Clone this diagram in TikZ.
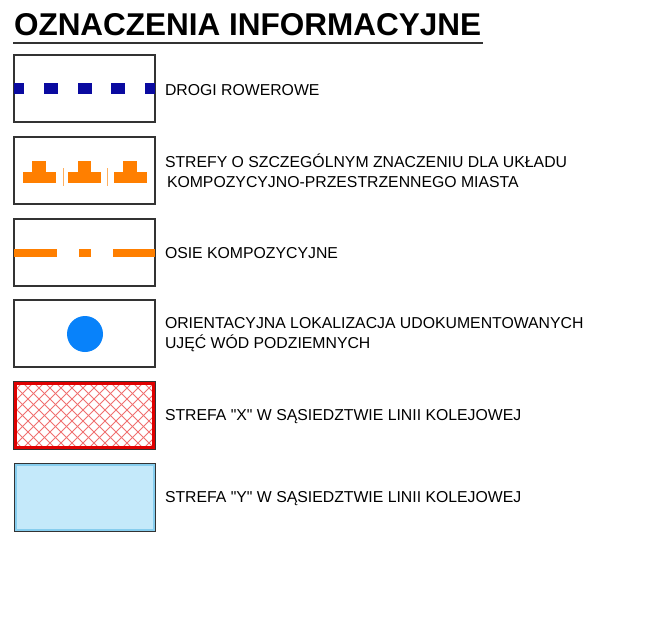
\documentclass[tikz,border=0pt]{standalone}
\usepackage{fontspec}
\setmainfont{Liberation Sans}[Ligatures=TeXOff]
\begin{document}
\begin{tikzpicture}[x=1pt,y=-1pt,
  every node/.style={outer sep=0pt},
  legbox/.style={draw=boxgray,line width=1.2pt,minimum width=141pt,minimum height=67pt,inner sep=0pt,anchor=north west},
  lbl/.style={anchor=base west,inner sep=0pt,font=\fontsize{15.8}{19.5}\selectfont,align=left},
]
\definecolor{boxgray}{HTML}{333333}
\definecolor{bikeblue}{HTML}{0A0AA0}
\definecolor{orng}{HTML}{FF7F00}
\definecolor{ltorng}{HTML}{FFB060}
\definecolor{dotblue}{HTML}{0882FA}
\definecolor{hred}{HTML}{E00000}
\definecolor{hatch}{HTML}{F07070}
\definecolor{ltblue}{HTML}{C4E9FA}
\definecolor{midblue}{HTML}{86CDEE}
\useasboundingbox[fill=white] (0,0) rectangle (668,630);
% title
\node[anchor=base west,inner sep=0pt,font=\fontsize{31.5}{32}\selectfont\bfseries] (title) at (14,35.5) {OZNACZENIA INFORMACYJNE};
\draw[line width=1.5pt,boxgray] (13,43) coordinate (ul1) -- (483,43) coordinate (ul2);
% box 1: bike roads
\node[legbox] (b1) at (14,55) {};
\foreach \a/\b in {14/24,44/58,78/92,111/125,145/155}{\fill[bikeblue] (\a,83) rectangle (\b,94);}
\node[lbl] (t1) at (165,95.3) {DROGI ROWEROWE};
% box 2: zones
\node[legbox] (b2) at (14,137) {};
\foreach \d in {0,45.3,91}{
  \fill[orng] (23+\d,172) rectangle (55.7+\d,183.3);
  \fill[orng] (32.3+\d,161) rectangle (45.7+\d,172.5);
}
\draw[ltorng,line width=0.8pt] (63,168) -- (63,186);
\draw[ltorng,line width=0.8pt] (107.3,168) -- (107.3,186);
\node[lbl] (t2a) at (165,167.8) {STREFY O SZCZEGÓLNYM ZNACZENIU DLA UKŁADU};
\node[lbl] (t2b) at (167,187.2) {KOMPOZYCYJNO-PRZESTRZENNEGO MIASTA};
% box 3: axes
\node[legbox] (b3) at (14,219) {};
\foreach \a/\b in {14/57,79/91,113/155}{\fill[orng] (\a,249.3) rectangle (\b,256.7);}
\node[lbl] (t3) at (165,258.3) {OSIE KOMPOZYCYJNE};
% box 4: wells
\node[legbox] (b4) at (14,300) {};
\fill[dotblue] (85,334) circle (18);
\node[lbl] (t4a) at (165,328.6) {ORIENTACYJNA LOKALIZACJA UDOKUMENTOWANYCH};
\node[lbl] (t4b) at (165,348.2) {UJĘĆ WÓD PODZIEMNYCH};
% box 5: zone X
\begin{scope}
\clip (14,382) rectangle (155,449);
\foreach \k in {-8,...,20}{
  \draw[hatch,line width=1pt] (\k*11,382) -- ++(67,67);
  \draw[hatch,line width=1pt] (\k*11,449) -- ++(67,-67);
}
\end{scope}
\draw[boxgray,line width=0.8pt] (13.6,381.6) rectangle (155.4,449.4);
\node[draw=hred,line width=3pt,minimum width=138pt,minimum height=64pt,inner sep=0pt,anchor=north west] (b5) at (15.5,383.5) {};
\node[lbl] (t5) at (165,420.5) {STREFA "X" W SĄSIEDZTWIE LINII KOLEJOWEJ};
% box 6: zone Y
\node[fill=ltblue,draw=boxgray,line width=1pt,minimum width=141pt,minimum height=68pt,inner sep=0pt,anchor=north west] (b6) at (14,463) {};
\draw[midblue,line width=2pt] (15.5,464.5) rectangle (153.5,529.5);
\node[lbl] (t6) at (165,502.3) {STREFA "Y" W SĄSIEDZTWIE LINII KOLEJOWEJ};
\end{tikzpicture}
\end{document}
